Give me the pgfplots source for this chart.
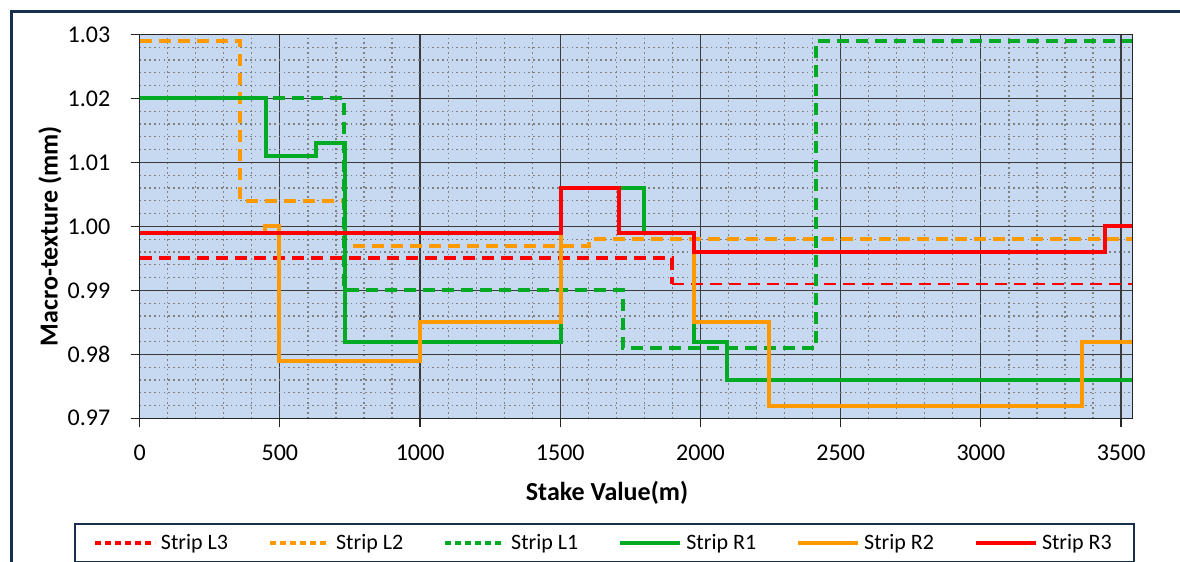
\documentclass[border=0pt]{standalone}
\usepackage{fontspec}
\setmainfont{Carlito}
\usepackage{pgfplots}
\pgfplotsset{compat=1.18}
\definecolor{cred}{RGB}{255,0,0}
\definecolor{corange}{RGB}{255,153,0}
\definecolor{cgreen}{RGB}{3,170,36}
\definecolor{plotbg}{RGB}{198,217,241}
\definecolor{navy}{RGB}{23,48,80}
\definecolor{majgrid}{RGB}{60,60,60}
\definecolor{mingrid}{RGB}{128,128,128}
\begin{document}
\begin{tikzpicture}
\path[use as bounding box] (0,0) rectangle (590pt,-281pt);
\draw[navy, line width=1.5pt] (5.5pt,-290pt) -- (5.5pt,-5.5pt) -- (600pt,-5.5pt);
\begin{axis}[
  at={(69.85pt,-209.15pt)}, anchor=south west,
  scale only axis, width=496.3pt, height=192pt,
  xmin=0, xmax=3540, ymin=0.97, ymax=1.03,
  xtick={0,500,...,3500}, ytick={0.97,0.98,...,1.031},
  minor x tick num=4, minor y tick num=4,
  grid=both,
  major grid style={majgrid, line width=0.6pt},
  minor grid style={mingrid, line width=0.6pt, dash pattern=on 0.8pt off 1.6pt},
  axis background/.style={fill=plotbg},
  axis line style={black!85, line width=0.6pt},
  tick align=outside, major tick length=4.5pt, minor tick length=0pt,
  xtick pos=bottom, ytick pos=left,
  tick style={black!85, line width=0.6pt},
  /pgf/number format/assume math mode=true,
  yticklabel style={/pgf/number format/.cd, fixed, fixed zerofill, precision=2, /tikz/.cd, font=\fontsize{12}{14}\selectfont, inner sep=0pt, xshift=-10pt},
  xticklabel style={/pgf/number format/.cd, fixed, 1000 sep={}, /tikz/.cd, font=\fontsize{12}{14}\selectfont, inner sep=0pt, yshift=-8.5pt},
  scaled y ticks=false,
  xlabel={\textbf{Stake Value(m)}},
  ylabel={\textbf{Macro-texture (mm)}},
  xlabel style={at={(axis description cs:0.4708,-0.1945)}, anchor=center, font=\fontsize{13}{15}\selectfont},
  ylabel style={at={(axis description cs:-0.0904,0.4747)}, anchor=center, rotate=0, font=\fontsize{13}{15}\selectfont},
  legend columns=6,
  legend style={at={(axis description cs:-0.0662,-0.2727)}, anchor=north west,
    draw=navy, line width=1pt, fill=white, font=\fontsize{11}{13}\selectfont,
    inner xsep=9pt, inner ysep=3pt,
    /tikz/every even column/.append style={column sep=18pt}},
  legend image code/.code={\draw[#1] (0pt,0pt) -- (30pt,0pt);},
]
% Strip L3
\addplot[cred, line width=2pt, dash pattern=on 6pt off 3.5pt, legend image post style={dash pattern=on 3pt off 2pt}] coordinates {(0,0.995) (1899,0.995) (1899,0.991)};
\addlegendentry{Strip L3}
\addplot[cred, line width=1.3pt, dash pattern=on 6pt off 3.5pt, forget plot] coordinates {(1899,0.991) (3540,0.991)};
% Strip L2
\addplot[corange, line width=2pt, dash pattern=on 6pt off 3.5pt, legend image post style={dash pattern=on 3pt off 2pt}] coordinates {(0,1.029) (358,1.029) (358,1.004) (727,1.004) (727,0.997) (1603,0.997) (1603,0.998) (3540,0.998)};
\addlegendentry{Strip L2}
% Strip L1
\addplot[cgreen, line width=2pt, dash pattern=on 6pt off 3.5pt, legend image post style={dash pattern=on 3pt off 2pt}] coordinates {(0,1.020) (727,1.020) (727,0.990) (1722,0.990) (1722,0.981) (2413,0.981) (2413,1.029) (3540,1.029)};
\addlegendentry{Strip L1}
% Strip R1
\addplot[cgreen, line width=2pt] coordinates {(0,1.020) (449,1.020) (449,1.011) (629,1.011) (629,1.013) (732,1.013) (732,0.982) (1502,0.982) (1502,1.006) (1799,1.006) (1799,0.999) (1977,0.999) (1977,0.982) (2095,0.982) (2095,0.976) (3540,0.976)};
\addlegendentry{Strip R1}
% Strip R2
\addplot[corange, line width=2pt] coordinates {(0,0.999) (447,0.999) (447,1.000) (498,1.000) (498,0.979) (1000,0.979) (1000,0.985) (1502,0.985) (1502,1.006) (1710,1.006) (1710,0.999) (1977,0.999) (1977,0.985) (2243,0.985) (2243,0.972) (3360,0.972) (3360,0.982) (3540,0.982)};
\addlegendentry{Strip R2}
% Strip R3
\addplot[cred, line width=2pt] coordinates {(0,0.999) (1502,0.999) (1502,1.006) (1710,1.006) (1710,0.999) (1977,0.999) (1977,0.996) (3442,0.996) (3442,1.000) (3540,1.000)};
\addlegendentry{Strip R3}
\end{axis}
\end{tikzpicture}
\end{document}
